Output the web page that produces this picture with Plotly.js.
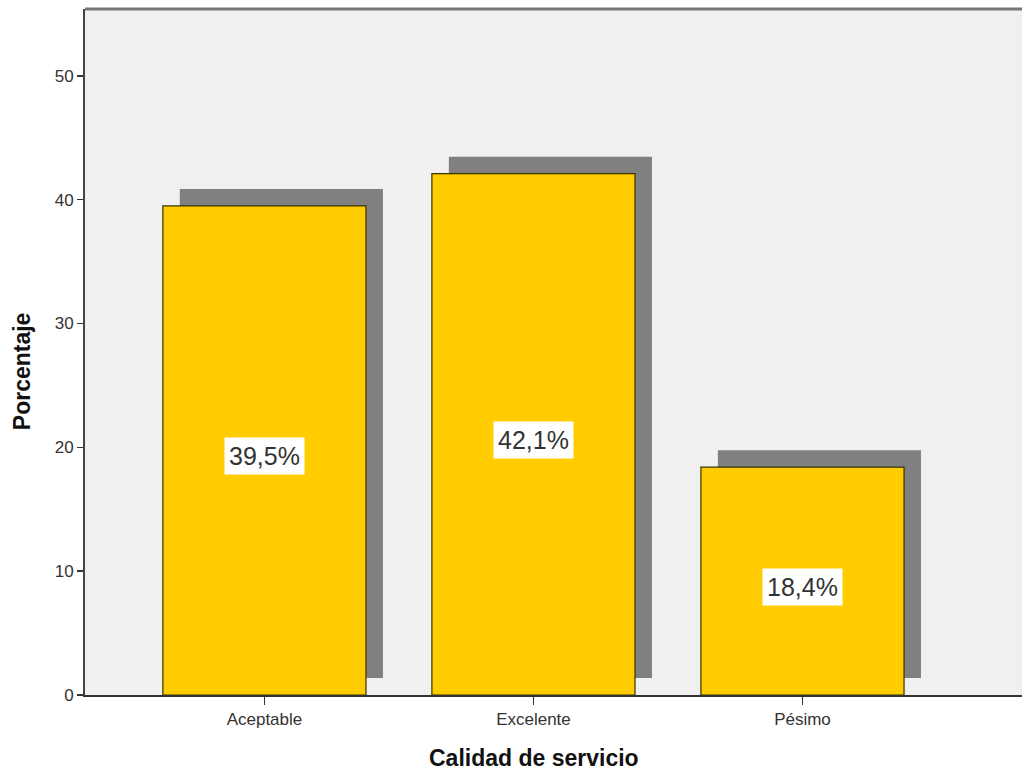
<!DOCTYPE html>
<html>
<head>
<meta charset="utf-8">
<script src="https://cdn.plot.ly/plotly-3.0.1.min.js"></script>
<style>html,body{margin:0;padding:0;background:#fff;}#chart{width:1022px;height:771px;}</style>
</head>
<body>
<div id="chart"></div>
<script>
const categories = ["Aceptable", "Excelente", "Pésimo"];
const percentages = [39.5, 42.1, 18.4];
const yTicks = [0, 10, 20, 30, 40, 50];
const xTitle = "Calidad de servicio";
const yTitle = "Porcentaje";

const xPos = categories.map((c, i) => i);
const barWidth = 0.755;
const shadowDx = 0.063;
const shadowDy = 1.37;
const FONT = 'Liberation Sans, Arial, sans-serif';

const labelText = percentages.map(v => v.toFixed(1).replace('.', ',') + '%');

const shadow = {
  type: 'bar',
  x: xPos,
  y: percentages,
  base: percentages.map(() => shadowDy),
  width: barWidth,
  offset: -barWidth / 2 + shadowDx,
  marker: {color: '#808080', line: {width: 0}},
  hoverinfo: 'skip',
  showlegend: false
};

const bars = {
  type: 'bar',
  x: xPos,
  y: percentages,
  width: barWidth,
  offset: -barWidth / 2,
  marker: {color: '#FFCC00', line: {color: '#3a3000', width: 1.2}},
  showlegend: false
};

const annotations = percentages.map((v, i) => ({
  x: xPos[i], y: v / 2, xref: 'x', yref: 'y',
  text: labelText[i], showarrow: false,
  bgcolor: '#ffffff', borderpad: 4, yshift: -6,
  font: {family: FONT, size: 25, color: '#333'}
}));

annotations.push({
  xref: 'paper', yref: 'paper', x: 0.479, y: -0.0918,
  xanchor: 'center', yanchor: 'middle', showarrow: false,
  text: xTitle, font: {family: FONT, size: 23, color: '#111', weight: 'bold'}
});
annotations.push({
  xref: 'paper', yref: 'paper', x: 0, xshift: -63, y: 0.472,
  xanchor: 'center', yanchor: 'middle', showarrow: false, textangle: -90,
  text: yTitle, font: {family: FONT, size: 23, color: '#111', weight: 'bold'}
});

const layout = {
  width: 1022, height: 771,
  margin: {l: 85, r: 0, t: 9, b: 76, pad: 0},
  paper_bgcolor: '#ffffff',
  plot_bgcolor: '#F0F0F0',
  barmode: 'overlay',
  font: {family: FONT, color: '#222'},
  xaxis: {
    range: [-0.667, 2.816],
    tickvals: xPos, ticktext: categories,
    ticks: 'outside', ticklen: 8, tickwidth: 1.5, tickcolor: '#333',
    showline: true, linecolor: '#333', linewidth: 1.5,
    showgrid: false, zeroline: false,
    tickfont: {size: 17, color: '#333'}
  },
  yaxis: {
    range: [0, 55.4],
    tickvals: yTicks,
    ticks: 'outside', ticklen: 6, tickwidth: 1.5, tickcolor: '#333',
    showline: true, linecolor: '#444', linewidth: 2,
    showgrid: false, zeroline: false,
    tickfont: {size: 17, color: '#333'}
  },
  shapes: [{
    type: 'line', xref: 'paper', yref: 'paper', x0: 0, x1: 1, y0: 1, y1: 1,
    line: {color: '#777', width: 3}
  }],
  annotations: annotations
};

Plotly.newPlot('chart', [shadow, bars], layout, {displayModeBar: false, staticPlot: true});
</script>
</body>
</html>
